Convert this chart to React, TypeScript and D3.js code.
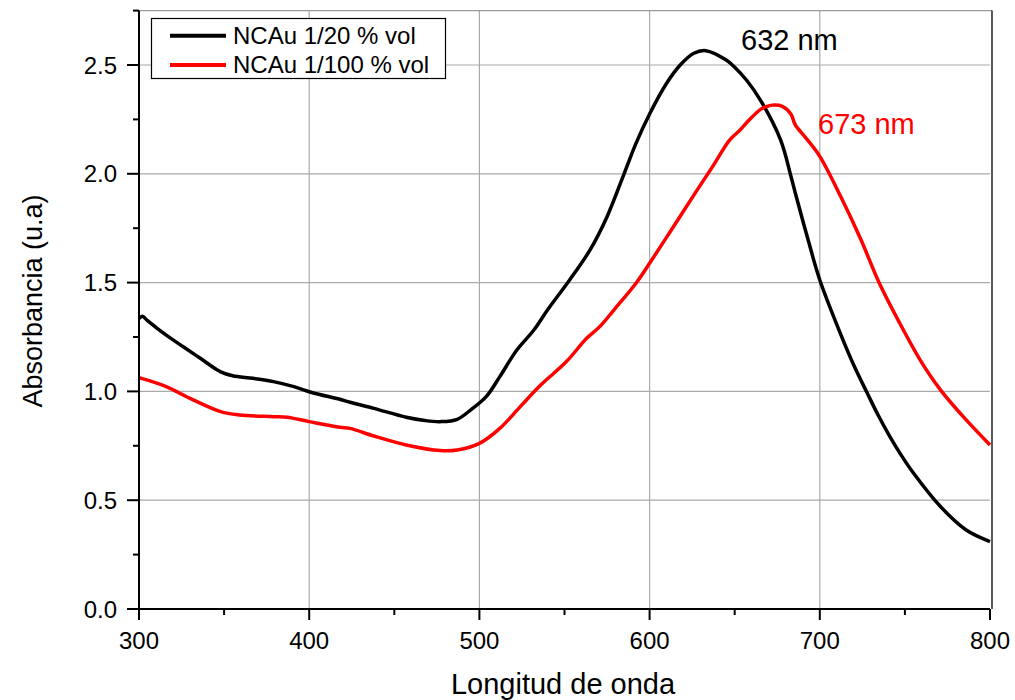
import React from "react";
import * as d3 from "d3";

const blackWl = [300, 302, 305, 312, 320, 326, 336, 348, 355, 367, 379, 391, 402, 418, 424, 438, 457, 468, 477, 487, 496, 504, 512, 522, 532, 540, 553, 565, 575, 585, 592, 600, 610, 618, 626, 633, 645, 650, 657, 665, 677, 683, 686, 693, 700, 712, 720, 728, 734, 741, 748, 755, 771, 786, 800];
const blackAbs = [1.335, 1.345, 1.325, 1.282, 1.237, 1.205, 1.152, 1.09, 1.072, 1.06, 1.045, 1.022, 0.994, 0.964, 0.95, 0.922, 0.881, 0.866, 0.861, 0.872, 0.922, 0.976, 1.068, 1.19, 1.282, 1.374, 1.512, 1.65, 1.803, 2.0, 2.14, 2.275, 2.416, 2.5, 2.554, 2.566, 2.523, 2.49, 2.43, 2.34, 2.155, 1.99, 1.9, 1.7, 1.512, 1.268, 1.12, 0.99, 0.895, 0.795, 0.705, 0.625, 0.47, 0.363, 0.31];

const redWl = [300, 316, 330, 348, 359, 379, 387, 400, 418, 424, 438, 457, 477, 487, 500, 512, 524, 536, 551, 563, 571, 579, 592, 600, 614, 628, 637, 647, 653, 657, 665, 669, 673, 678, 683, 685, 686, 692, 700, 712, 724, 735, 747, 759, 771, 786, 800];
const redAbs = [1.063, 1.022, 0.968, 0.907, 0.892, 0.884, 0.881, 0.861, 0.835, 0.83, 0.795, 0.754, 0.728, 0.731, 0.761, 0.83, 0.93, 1.029, 1.136, 1.244, 1.3, 1.374, 1.497, 1.589, 1.757, 1.926, 2.033, 2.155, 2.2, 2.235, 2.295, 2.31, 2.316, 2.31, 2.275, 2.235, 2.22, 2.163, 2.08, 1.9, 1.7, 1.497, 1.313, 1.144, 1.006, 0.869, 0.754];

const xMajor = [300, 400, 500, 600, 700, 800];
const xMinor = [350, 450, 550, 650, 750];
const yMajor = [0, 0.5, 1.0, 1.5, 2.0, 2.5];
const yMinor = [0.25, 0.75, 1.25, 1.75, 2.25, 2.75];

const seriesNames = ["NCAu 1/20 % vol", "NCAu 1/100 % vol"];
const seriesColors = ["#000000", "#ff0000"];
const peakLabels = ["632 nm", "673 nm"];

const FONT = "'Liberation Sans', Arial, Helvetica, sans-serif";

export default function App() {
  const W = 1015, H = 700;
  const x = d3.scaleLinear().domain([300, 800]).range([139, 990]);
  const y = d3.scaleLinear().domain([0, 2.75]).range([609, 10.6]);
  const line = d3
    .line<[number, number]>()
    .x((d) => x(d[0]))
    .y((d) => y(d[1]))
    .curve(d3.curveCatmullRom.alpha(0.5));
  const blackData: [number, number][] = blackWl.map((w, i) => [w, blackAbs[i]]);
  const redData: [number, number][] = redWl.map((w, i) => [w, redAbs[i]]);
  const x0 = x(300), x1 = x(800), yb = y(0), yt = y(2.75);

  return (
    <div style={{ position: "absolute", left: 0, top: 0 }}>
      <svg width={W} height={H} style={{ display: "block", background: "#fff" }} fontFamily={FONT}>
        <rect x={0} y={0} width={W} height={H} fill="#fff" />
        {/* grid */}
        {xMajor.slice(1, -1).map((v) => (
          <line key={"gx" + v} x1={x(v)} x2={x(v)} y1={yb} y2={yt} stroke="#aaaaaa" strokeWidth={1.2} />
        ))}
        {yMajor.slice(1).map((v) => (
          <line key={"gy" + v} x1={x0} x2={x1} y1={y(v)} y2={y(v)} stroke="#aaaaaa" strokeWidth={1.2} />
        ))}
        {/* frame top/right */}
        <line x1={x0} x2={x1 + 2} y1={yt} y2={yt} stroke="#999" strokeWidth={1.2} />
        <line x1={x1 + 2} x2={x1 + 2} y1={yt} y2={yb} stroke="#000" strokeWidth={1.3} />
        {/* curves */}
        <path d={line(blackData) || ""} fill="none" stroke={seriesColors[0]} strokeWidth={3.5} strokeLinejoin="round" />
        <path d={line(redData) || ""} fill="none" stroke={seriesColors[1]} strokeWidth={3.5} strokeLinejoin="round" />
        {/* axes */}
        <line x1={x0} x2={x1} y1={yb} y2={yb} stroke="#000" strokeWidth={2} />
        <line x1={x0} x2={x0} y1={yt} y2={yb} stroke="#000" strokeWidth={2} />
        {xMajor.map((v) => (
          <g key={"xt" + v}>
            <line x1={x(v)} x2={x(v)} y1={yb} y2={yb + 11} stroke="#000" strokeWidth={2} />
            <text x={x(v)} y={649} fontSize={24} textAnchor="middle" fill="#000">{v}</text>
          </g>
        ))}
        {xMinor.map((v) => (
          <line key={"xm" + v} x1={x(v)} x2={x(v)} y1={yb} y2={yb + 6} stroke="#000" strokeWidth={2} />
        ))}
        {yMajor.map((v) => (
          <g key={"yt" + v}>
            <line x1={x0 - 12} x2={x0} y1={y(v)} y2={y(v)} stroke="#000" strokeWidth={2} />
            <text x={117} y={y(v) + 8.5} fontSize={24} textAnchor="end" fill="#000">{v.toFixed(1)}</text>
          </g>
        ))}
        {yMinor.map((v) => (
          <line key={"ym" + v} x1={x0 - 6} x2={x0} y1={y(v)} y2={y(v)} stroke="#000" strokeWidth={2} />
        ))}
        {/* axis titles */}
        <text x={563} y={694} fontSize={29} textAnchor="middle" fill="#000">Longitud de onda</text>
        <text transform="translate(42,301) rotate(-90)" fontSize={27} textAnchor="middle" fill="#000">Absorbancia (u.a)</text>
        {/* peak labels */}
        <text x={741} y={50} fontSize={29} fill={seriesColors[0]}>{peakLabels[0]}</text>
        <text x={818} y={134} fontSize={29} fill={seriesColors[1]}>{peakLabels[1]}</text>
        {/* legend */}
        <rect x={151.5} y={18.5} width={294} height={60} fill="#fff" stroke="#000" strokeWidth={1.2} />
        {seriesNames.map((n, i) => (
          <g key={n}>
            <line x1={170} x2={226} y1={35.7 + i * 29.3} y2={35.7 + i * 29.3} stroke={seriesColors[i]} strokeWidth={4} />
            <text x={233} y={43.5 + i * 29} fontSize={24} fill="#000">{n}</text>
          </g>
        ))}
      </svg>
    </div>
  );
}
